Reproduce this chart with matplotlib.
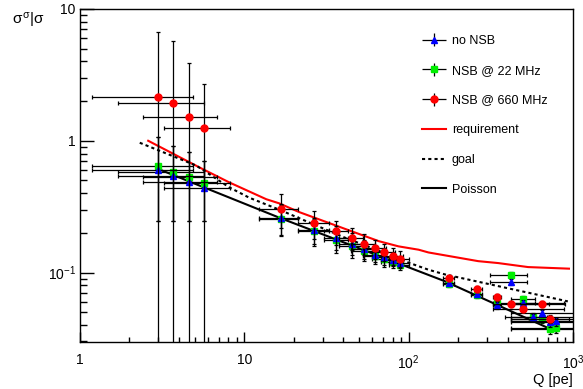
import matplotlib
matplotlib.use('Agg')
import numpy as np
import matplotlib.pyplot as plt
from matplotlib.legend_handler import HandlerErrorbar
from matplotlib.ticker import FixedLocator, FixedFormatter, LogLocator, NullFormatter

plt.rcParams['font.family'] = ['Liberation Sans', 'DejaVu Sans']
plt.rcParams['mathtext.fontset'] = 'custom'
plt.rcParams['mathtext.rm'] = 'Liberation Sans'
plt.rcParams['mathtext.it'] = 'Liberation Sans'

# ---------------- data ----------------
q_blue = [3.0, 3.7, 4.6, 5.7, 16.8, 26.7, 36.0, 45.0, 53.4, 62.5, 71.0, 80.0, 89.0,
          175, 259, 343, 421, 498, 572, 650, 722, 790]
y_blue = [0.60, 0.54, 0.486, 0.44, 0.261, 0.209, 0.184, 0.166, 0.150, 0.137, 0.131, 0.124, 0.119,
          0.084, 0.0687, 0.0563, 0.0849, 0.0587, 0.0456, 0.0492, 0.0418, 0.0425]
xlo_blue = [1.82, 2.0, 2.19, 2.47, 4.5, 5.4, 5.5, 7.5, 9.0, 10.0, 11.0, 12.0, 13.0,
            14, 18, 16, 110, 80, 150, 230, 300, 370]
xhi_blue = [1.84, 2.02, 2.25, 2.5, 4.4, 5.9, 7.0, 7.5, 9.0, 10.0, 11.0, 12.0, 11.0,
            14, 19, 20, 102, 90, 120, 400, 500, 500]
ylo_blue = [0.355, 0.295, 0.24, 0.195, 0.069, 0.045, 0.037, 0.031, 0.024, 0.017, 0.016, 0.012, 0.010,
            0.004, 0.004, 0.003, 0.004, 0.003, 0.003, 0.003, 0.003, 0.003]
yhi_blue = [0.47, 0.38, 0.33, 0.26, 0.070, 0.050, 0.040, 0.032, 0.026, 0.020, 0.018, 0.015, 0.013,
            0.004, 0.004, 0.003, 0.004, 0.003, 0.003, 0.003, 0.003, 0.003]

q_green = [3.0, 3.7, 4.6, 5.7, 16.8, 26.7, 36.0, 45.0, 53.4, 62.5, 71.0, 80.0, 89.0,
           175, 259, 343, 421, 498, 572, 650, 722, 790]
y_green = [0.645, 0.58, 0.53, 0.48, 0.255, 0.205, 0.178, 0.160, 0.146, 0.133, 0.127, 0.120, 0.115,
           0.082, 0.068, 0.0587, 0.0966, 0.063, 0.0459, 0.0442, 0.0372, 0.0378]
xlo_green = [1.82, 2.0, 2.19, 2.47, 4.5, 5.4, 5.5, 7.5, 9.0, 10.0, 11.0, 12.0, 13.0,
             14, 18, 16, 110, 80, 189, 230, 300, 370]
xhi_green = [1.84, 2.02, 2.25, 2.5, 4.4, 5.9, 7.0, 7.5, 9.0, 10.0, 11.0, 12.0, 11.0,
             14, 19, 540, 102, 90, 600, 300, 500, 500]
ylo_green = [0.40, 0.335, 0.285, 0.235, 0.065, 0.045, 0.037, 0.031, 0.024, 0.017, 0.016, 0.012, 0.010,
             0.004, 0.004, 0.003, 0.005, 0.003, 0.003, 0.003, 0.003, 0.003]
yhi_green = [0.43, 0.34, 0.29, 0.22, 0.070, 0.050, 0.040, 0.032, 0.026, 0.020, 0.018, 0.015, 0.013,
             0.004, 0.004, 0.003, 0.005, 0.003, 0.003, 0.003, 0.003, 0.003]

q_red = [3.0, 3.7, 4.6, 5.7, 16.8, 26.7, 36.0, 45.0, 53.4, 62.5, 71.0, 80.0, 89.0,
         175, 259, 343, 421, 498, 650, 722]
y_red = [2.13, 1.92, 1.52, 1.24, 0.306, 0.239, 0.207, 0.182, 0.166, 0.153, 0.144, 0.133, 0.127,
         0.091, 0.0755, 0.0648, 0.0576, 0.0528, 0.0576, 0.0442]
xlo_red = [1.82, 2.0, 2.19, 2.47, 4.5, 5.4, 5.5, 7.5, 9.0, 10.0, 11.0, 12.0, 13.0,
           14, 18, 16, 94, 171, 230, 300]
xhi_red = [1.84, 2.02, 2.25, 2.5, 4.4, 5.9, 7.0, 7.5, 9.0, 10.0, 11.0, 12.0, 11.0,
           14, 19, 20, 469, 380, 60, 500]
ylo_red = [2.129, 1.919, 1.519, 1.239, 0.09, 0.06, 0.045, 0.035, 0.03, 0.026, 0.022, 0.018, 0.016,
           0.005, 0.004, 0.004, 0.003, 0.003, 0.003, 0.003]
yhi_red = [4.54, 3.78, 2.35, 1.48, 0.088, 0.055, 0.039, 0.034, 0.029, 0.025, 0.020, 0.021, 0.019,
           0.005, 0.004, 0.004, 0.003, 0.003, 0.003, 0.003]

req_q = [2.6, 5.3, 8.1, 13.6, 16.3, 21.5, 41.6, 65.8, 86.7, 115, 132, 265, 350, 533, 945]
req_y = [1.0, 0.63, 0.483, 0.36, 0.335, 0.288, 0.213, 0.173, 0.158, 0.149, 0.142, 0.122, 0.118, 0.110, 0.107]

goal_q = [2.31, 5.1, 8.1, 10.7, 16.3, 40.0, 60.0, 99.6, 132, 167, 230, 930]
goal_y = [0.966, 0.648, 0.443, 0.37, 0.30, 0.186, 0.153, 0.119, 0.105, 0.0966, 0.0885, 0.0604]

pois_q = [3.0, 16.3, 166, 790]
pois_y = [0.61, 0.261, 0.0859, 0.0356]

labels = ['no NSB', 'NSB @ 22 MHz', 'NSB @ 660 MHz', 'requirement', 'goal', 'Poisson']
xticks = [1, 10, 100, 1000]
xticklabels = ['1', '10', '$10^{2}$', '$10^{3}$']
yticks = [0.1, 1, 10]
yticklabels = ['$10^{-1}$', '1', '10']

# ---------------- figure ----------------
W, H = 583, 389
fig = plt.figure(figsize=(W / 100, H / 100), dpi=100)
ax = fig.add_axes([80 / W, 1 - 342 / H, (573 - 80) / W, (342 - 9) / H])
ax.set_xscale('log')
ax.set_yscale('log')
ax.set_xlim(1, 1000)
ax.set_ylim(0.0297, 10)

l_req, = ax.plot(req_q, req_y, color='#ff0000', lw=1.5, zorder=2)
l_goal, = ax.plot(goal_q, goal_y, color='black', lw=1.5, ls=(0, (1.5, 1.5)), zorder=2)
l_pois, = ax.plot(pois_q, pois_y, color='black', lw=1.5, zorder=2)

ekw = dict(ecolor='black', elinewidth=0.9, capsize=1.5, capthick=0.9, linestyle='none')
styles = {'blue': dict(fmt='^', color='#0000ff', ms=5, mec='#0000ff'),
          'green': dict(fmt='s', color='#00ee00', ms=4.5, mec='#00ee00'),
          'red': dict(fmt='o', color='#ff0000', ms=5, mec='#ff0000')}

ax.errorbar(q_green, y_green, xerr=[xlo_green, xhi_green], yerr=[ylo_green, yhi_green],
            zorder=3, **styles['green'], **ekw)
ax.errorbar(q_blue, y_blue, xerr=[xlo_blue, xhi_blue], yerr=[ylo_blue, yhi_blue],
            zorder=4, **styles['blue'], **ekw)
ax.errorbar(q_red, y_red, xerr=[xlo_red, xhi_red], yerr=[ylo_red, yhi_red],
            zorder=5, **styles['red'], **ekw)

# legend proxies (no caps, like the reference legend)
pkw = dict(ecolor='black', elinewidth=0.9, capsize=0, linestyle='none')
p_blue = ax.errorbar([np.nan], [np.nan], xerr=[1], yerr=[1], **styles['blue'], **pkw)
p_green = ax.errorbar([np.nan], [np.nan], xerr=[1], yerr=[1], **styles['green'], **pkw)
p_red = ax.errorbar([np.nan], [np.nan], xerr=[1], yerr=[1], **styles['red'], **pkw)

ax.xaxis.set_major_locator(FixedLocator(xticks))
ax.xaxis.set_major_formatter(FixedFormatter(xticklabels))
ax.xaxis.set_minor_locator(LogLocator(base=10, subs=range(2, 10)))
ax.xaxis.set_minor_formatter(NullFormatter())
ax.yaxis.set_major_locator(FixedLocator(yticks))
ax.yaxis.set_major_formatter(FixedFormatter(yticklabels))
ax.yaxis.set_minor_locator(LogLocator(base=10, subs=range(2, 10)))
ax.yaxis.set_minor_formatter(NullFormatter())

ax.tick_params(axis='x', which='major', direction='in', length=7, width=1, labelsize=10, pad=8)
ax.tick_params(axis='x', which='minor', direction='in', length=3.5, width=1)
ax.tick_params(axis='y', which='major', direction='in', length=10, width=1, labelsize=10, pad=3)
ax.tick_params(axis='y', which='minor', direction='in', length=5, width=1)
for s in ax.spines.values():
    s.set_linewidth(1)

fig.text(573 / W, 1 - 384 / H, 'Q [pe]', ha='right', va='baseline', fontsize=10.5)
fig.text(12 / W, 1 - 25 / H, r'$\sigma^{\sigma}|\sigma$', ha='left', va='baseline', fontsize=11)

hm = {p_blue: HandlerErrorbar(xerr_size=0.95, yerr_size=0.52),
      p_green: HandlerErrorbar(xerr_size=0.95, yerr_size=0.52),
      p_red: HandlerErrorbar(xerr_size=0.95, yerr_size=0.52)}
leg = ax.legend([p_blue, p_green, p_red, l_req, l_goal, l_pois], labels,
                loc='upper left', bbox_to_anchor=(422 / W, 1 - 35 / H), bbox_transform=fig.transFigure,
                frameon=False, fontsize=9, handlelength=1.9, handletextpad=0.5,
                labelspacing=1.42, borderpad=0, borderaxespad=0, handler_map=hm)

fig.savefig('out.png', dpi=100)
